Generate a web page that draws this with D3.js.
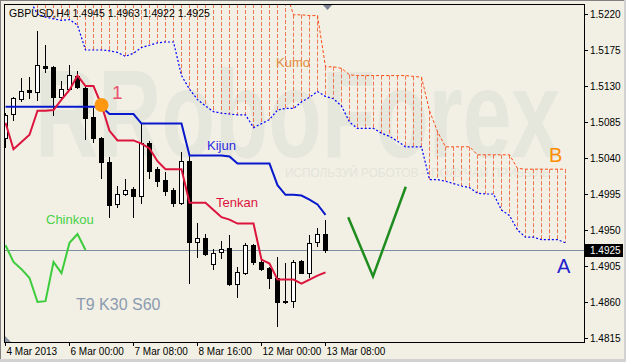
<!DOCTYPE html>
<html>
<head>
<meta charset="utf-8">
<script src="https://cdn.jsdelivr.net/npm/d3@7"></script>
<style>
body { margin: 0; background: #f2f0e4; }
svg { display: block; }
</style>
</head>
<body>
<svg id="chart" width="626" height="362"></svg>
<script>
// ---- data ----
const symbol = "GBPUSD,H4";
const timeLabels = ["4 Mar 2013", "6 Mar 00:00", "7 Mar 08:00", "8 Mar 16:00", "12 Mar 00:00", "13 Mar 08:00"];
const labelBars = [0, 8, 16, 24, 32, 40];
const priceTicks = [1.5220, 1.5175, 1.5130, 1.5085, 1.5040, 1.4995, 1.4950, 1.4905, 1.4860, 1.4815];
const lastPrice = 1.4925;

const opens  = [1.5065, 1.5095, 1.5114, 1.5125, 1.5122, 1.5155, 1.5154, 1.5116, 1.5126, 1.5143,
                1.5128, 1.5091, 1.5065, 1.5035, 1.4983, 1.4995, 1.5001, 1.4993, 1.5059, 1.5026,
                1.5012, 1.5000, 1.4984, 1.5036, 1.4935, 1.4940, 1.4908, 1.4922, 1.4927, 1.4883,
                1.4896, 1.4931, 1.4910, 1.4902, 1.4890, 1.4860, 1.4861, 1.4911, 1.4896, 1.4935, 1.4945];
const highs  = [1.5096, 1.5116, 1.5140, 1.5141, 1.5199, 1.5181, 1.5155, 1.5136, 1.5156, 1.5149,
                1.5129, 1.5103, 1.5066, 1.5041, 1.5005, 1.5014, 1.5004, 1.5084, 1.5061, 1.5029,
                1.5022, 1.5003, 1.5048, 1.5043, 1.4959, 1.4945, 1.4926, 1.4936, 1.4944, 1.4904,
                1.4934, 1.4933, 1.4913, 1.4904, 1.4916, 1.4909, 1.4912, 1.4912, 1.4944, 1.4953, 1.4963];
const lows   = [1.5054, 1.5088, 1.5111, 1.5115, 1.5112, 1.5148, 1.5094, 1.5115, 1.5125, 1.5128,
                1.5064, 1.5060, 1.5015, 1.4966, 1.4979, 1.4994, 1.4966, 1.4984, 1.5015, 1.5005,
                1.4994, 1.4980, 1.4983, 1.4884, 1.4916, 1.4919, 1.4901, 1.4915, 1.4881, 1.4866,
                1.4895, 1.4908, 1.4900, 1.4878, 1.4830, 1.4859, 1.4854, 1.4896, 1.4891, 1.4930, 1.4922];
const closes = [1.5094, 1.5115, 1.5124, 1.5123, 1.5156, 1.5153, 1.5116, 1.5126, 1.5144, 1.5129,
                1.5090, 1.5065, 1.5035, 1.4981, 1.4995, 1.5000, 1.4992, 1.5059, 1.5024, 1.5011,
                1.4999, 1.4984, 1.5036, 1.4935, 1.4940, 1.4920, 1.4921, 1.4926, 1.4883, 1.4898,
                1.4931, 1.4910, 1.4901, 1.4890, 1.4860, 1.4861, 1.4910, 1.4896, 1.4934, 1.4945, 1.4925];

const tenkan = [1.5084, 1.5051, 1.5060, 1.5069, 1.5099, 1.5099, 1.5100, 1.5113, 1.5125, 1.5143,
                1.5130, 1.5130, 1.5106, 1.5074, 1.5062, 1.5062, 1.5062, 1.5058, 1.5052, 1.5036,
                1.5026, 1.5026, 1.5026, 1.4984, 1.4984, 1.4984, 1.4975, 1.4966, 1.4963, 1.4958,
                1.4958, 1.4958, 1.4913, 1.4908, 1.4888, 1.4888, 1.4888, 1.4883, 1.4888, 1.4893, 1.4897];
const kijun  = [1.5104, 1.5104, 1.5104, 1.5104, 1.5104, 1.5104, 1.5104, 1.5104, 1.5104, 1.5104,
                1.5104, 1.5104, 1.5104, 1.5095, 1.5095, 1.5095, 1.5095, 1.5083, 1.5083, 1.5083,
                1.5083, 1.5083, 1.5083, 1.5043, 1.5043, 1.5043, 1.5043, 1.5043, 1.5042, 1.5033,
                1.5033, 1.5033, 1.5033, 1.5033, 1.5006, 1.4994, 1.4994, 1.4993, 1.4988, 1.4982, 1.4969];
// chinkou is drawn from bar 0 (30 bars back)
const chinkou = [1.4931, 1.4910, 1.4901, 1.4890, 1.4860, 1.4861, 1.4910, 1.4896, 1.4934, 1.4945, 1.4925];

// cloud, shifted 30 bars ahead. spanA = lower blue dotted edge, spanB = upper orange edge
const spanAStart = 3;
const spanA = [1.5238, 1.5220, 1.5216, 1.5214, 1.5212, 1.5213, 1.5206, 1.5175, 1.5175, 1.5175,
               1.5174, 1.5172, 1.5167, 1.5171, 1.5178, 1.5181, 1.5184, 1.5185, 1.5185, 1.5143,
               1.5126, 1.5113, 1.5105, 1.5098, 1.5096, 1.5095, 1.5094, 1.5094, 1.5078, 1.5083,
               1.5088, 1.5100, 1.5102, 1.5102, 1.5110, 1.5116, 1.5123, 1.5117, 1.5114, 1.5105,
               1.5085, 1.5077, 1.5077, 1.5077, 1.5071, 1.5067, 1.5061, 1.5054, 1.5054, 1.5054,
               1.5013, 1.5013, 1.5011, 1.5008, 1.5005, 1.5003, 1.4996, 1.4995, 1.4995, 1.4975,
               1.4968, 1.4950, 1.4941, 1.4941, 1.4938, 1.4938, 1.4938, 1.4934];
const spanBStart = 35;
const spanB = [1.5250, 1.5219, 1.5219, 1.5218, 1.5218, 1.5154, 1.5154, 1.5152, 1.5144, 1.5143,
               1.5143, 1.5143, 1.5143, 1.5143, 1.5143, 1.5143, 1.5142, 1.5141, 1.5099, 1.5073,
               1.5054, 1.5054, 1.5054, 1.5054, 1.5044, 1.5044, 1.5044, 1.5044, 1.5044, 1.5027,
               1.5026, 1.5026, 1.5026, 1.5026, 1.5026, 1.5026];

// hand drawn forecast "V"
const forecast = [
    { bar: 42.9, price: 1.4966 },
    { bar: 46.0, price: 1.4892 },
    { bar: 50.1, price: 1.5004 }
];

// ---- layout ----
const font = "'Liberation Sans', Arial, sans-serif";
const plot = { left: 4, top: 4, right: 584, bottom: 342 };
const svg = d3.select("#chart");

const x = d3.scaleLinear().domain([0, 40]).range([5, 325]);
const y = d3.scaleLinear().domain([1.4815, 1.5220]).range([338, 14]);
const px = i => Math.round(x(i));

svg.append("rect").attr("width", 626).attr("height", 362).attr("fill", "#f2f0e4");

svg.append("clipPath").attr("id", "plotClip")
    .append("rect")
    .attr("x", plot.left + 1).attr("y", plot.top + 1)
    .attr("width", plot.right - plot.left - 1).attr("height", plot.bottom - plot.top - 1);

const g = svg.append("g").attr("clip-path", "url(#plotClip)");

// watermark
g.append("text")
    .attr("x", 35).attr("y", 157)
    .attr("font-family", font).attr("font-weight", "bold").attr("font-size", 124)
    .attr("textLength", 525).attr("lengthAdjust", "spacingAndGlyphs")
    .attr("fill", "#e5e6dc")
    .text("RRoboForex");
g.append("text")
    .attr("x", 285).attr("y", 177)
    .attr("font-family", font).attr("font-size", 13)
    .attr("textLength", 265).attr("lengthAdjust", "spacingAndGlyphs")
    .attr("fill", "#e3e4da")
    .text("ИСПОЛЬЗУЙ РОБОТОВ – ПОЛУЧАЙ ПРИБЫЛЬ");

// cloud hatch, one dashed vertical per bar
const hatch = spanA.map((a, k) => {
    const i = spanAStart + k;
    const b = i >= spanBStart ? spanB[i - spanBStart] : null;
    return { i, top: b === null ? plot.top : y(b), bottom: y(a) };
});
g.selectAll(".hatch")
    .data(hatch)
    .enter()
    .append("line")
    .attr("class", "hatch")
    .attr("x1", d => px(d.i) + 0.5).attr("x2", d => px(d.i) + 0.5)
    .attr("y1", d => d.top).attr("y2", d => d.bottom)
    .attr("stroke", "#f07552").attr("stroke-width", 1)
    .attr("stroke-dasharray", "4,2");

g.append("path")
    .datum(spanB)
    .attr("fill", "none")
    .attr("stroke", "#ff4a14").attr("stroke-width", 1)
    .attr("stroke-dasharray", "3,2")
    .attr("d", d3.line().x((d, k) => px(spanBStart + k) + 0.5).y(d => y(d)));

g.append("path")
    .datum(spanA)
    .attr("fill", "none")
    .attr("stroke", "#0000ff").attr("stroke-width", 1.2)
    .attr("stroke-dasharray", "2,2")
    .attr("d", d3.line().x((d, k) => px(spanAStart + k) + 0.5).y(d => y(d)));

// last price line
g.append("line")
    .attr("x1", plot.left).attr("x2", plot.right)
    .attr("y1", Math.round(y(lastPrice)) + 0.5).attr("y2", Math.round(y(lastPrice)) + 0.5)
    .attr("stroke", "#7d8ca2").attr("stroke-width", 1);

// candles
const bars = opens.map((o, i) => ({ i, o, h: highs[i], l: lows[i], c: closes[i] }));
const candle = g.selectAll(".candle")
    .data(bars)
    .enter()
    .append("g")
    .attr("class", "candle");

candle.append("line")
    .attr("x1", d => px(d.i) + 0.5).attr("x2", d => px(d.i) + 0.5)
    .attr("y1", d => Math.round(y(d.h))).attr("y2", d => Math.round(y(d.l)) + 1)
    .attr("stroke", "#000").attr("stroke-width", 1);

candle.each(function(d) {
    const top = Math.round(y(Math.max(d.o, d.c)));
    const bot = Math.round(y(Math.min(d.o, d.c)));
    const sel = d3.select(this);
    if (d.c > d.o) {
        sel.append("rect")
            .attr("x", px(d.i) - 1.5).attr("y", top + 0.5)
            .attr("width", 4).attr("height", Math.max(0, bot - top))
            .attr("fill", "#fff").attr("stroke", "#000").attr("stroke-width", 1);
    } else {
        sel.append("rect")
            .attr("x", px(d.i) - 2).attr("y", top)
            .attr("width", 5).attr("height", Math.max(1, bot - top + 1))
            .attr("fill", "#000");
    }
});

// ichimoku lines
const barLine = d3.line().x((d, i) => x(i) + 0.5).y(d => y(d));

g.append("path")
    .datum(kijun)
    .attr("fill", "none").attr("stroke", "#0818cc").attr("stroke-width", 2)
    .attr("d", barLine);

g.append("path")
    .datum(tenkan)
    .attr("fill", "none").attr("stroke", "#dc143c").attr("stroke-width", 2)
    .attr("d", barLine);

g.append("path")
    .datum(chinkou)
    .attr("fill", "none").attr("stroke", "#3ccc3c").attr("stroke-width", 2)
    .attr("d", barLine);

// forecast V
g.append("path")
    .datum(forecast)
    .attr("fill", "none").attr("stroke", "#1f8c1f").attr("stroke-width", 2.5)
    .attr("d", d3.line().x(d => x(d.bar)).y(d => y(d.price)));

// cross marker
g.append("circle")
    .attr("cx", 101.5).attr("cy", 105).attr("r", 7)
    .attr("fill", "#ff9810");

// labels
const labels = [
    { text: "1", x: 112, y: 99, size: 19, color: "#e8506e" },
    { text: "Kumo", x: 276, y: 67, size: 13, color: "#e38c40" },
    { text: "Kijun", x: 207, y: 150, size: 13, color: "#2a2ae0" },
    { text: "Tenkan", x: 216, y: 207, size: 13, color: "#dc143c" },
    { text: "Chinkou", x: 46, y: 224, size: 13, color: "#48d048" },
    { text: "T9 K30 S60", x: 76, y: 310, size: 16, color: "#8a9bb0" },
    { text: "B", x: 549, y: 162, size: 20, color: "#ff8c00" },
    { text: "A", x: 557, y: 273, size: 20, color: "#2020d0" }
];
g.selectAll(".label")
    .data(labels)
    .enter()
    .append("text")
    .attr("class", "label")
    .attr("x", d => d.x).attr("y", d => d.y)
    .attr("font-family", font).attr("font-size", d => d.size)
    .attr("fill", d => d.color)
    .text(d => d.text);

g.append("text")
    .attr("x", 9).attr("y", 17)
    .attr("font-family", font).attr("font-size", 10.5)
    .attr("fill", "#000")
    .text(`${symbol}  ${opens[40].toFixed(4)} ${highs[40].toFixed(4)} ${lows[40].toFixed(4)} ${closes[40].toFixed(4)}`);

// chart shift marker and corner marker
svg.append("path")
    .attr("d", `M${x(40) - 3},${plot.top} L${x(40) + 8},${plot.top} L${x(40) + 2.5},${plot.top + 6} Z`)
    .attr("fill", "#7a8494");
svg.append("path")
    .attr("d", `M${plot.left + 1},${plot.bottom - 6} L${plot.left + 1},${plot.bottom} L${plot.left + 7},${plot.bottom} Z`)
    .attr("fill", "#8a92a0");

// plot border
svg.append("rect")
    .attr("x", plot.left + 0.5).attr("y", plot.top + 0.5)
    .attr("width", plot.right - plot.left).attr("height", plot.bottom - plot.top)
    .attr("fill", "none").attr("stroke", "#000");

// price axis
const yAxis = d3.axisRight(y)
    .tickValues(priceTicks)
    .tickSize(4)
    .tickPadding(2)
    .tickFormat(d3.format(".4f"));

svg.append("g")
    .attr("transform", `translate(${plot.right},0)`)
    .call(yAxis)
    .call(a => a.select(".domain").remove())
    .attr("font-family", font).attr("font-size", 10)
    .call(a => a.selectAll("text").attr("fill", "#000"));

// time axis
const xAxis = d3.axisBottom(x)
    .tickValues(labelBars)
    .tickSize(4)
    .tickPadding(2)
    .tickFormat((d, i) => timeLabels[i]);

svg.append("g")
    .attr("transform", `translate(0,${plot.bottom})`)
    .call(xAxis)
    .call(a => a.select(".domain").remove())
    .attr("font-family", font).attr("font-size", 10)
    .call(a => a.selectAll("text").attr("text-anchor", "start").attr("dx", 1).attr("fill", "#000"));

// last price tag
svg.append("rect")
    .attr("x", plot.right + 1).attr("y", Math.round(y(lastPrice)) - 6)
    .attr("width", 38).attr("height", 13)
    .attr("fill", "#000");
svg.append("text")
    .attr("x", plot.right + 6).attr("y", Math.round(y(lastPrice)) + 0.5)
    .attr("dy", "0.32em")
    .attr("font-family", font).attr("font-size", 10)
    .attr("fill", "#fff")
    .text(lastPrice.toFixed(4));

// window frame
svg.append("line").attr("x1", 0).attr("x2", 626).attr("y1", 0.5).attr("y2", 0.5).attr("stroke", "#808080");
svg.append("line").attr("x1", 0.5).attr("x2", 0.5).attr("y1", 0).attr("y2", 362).attr("stroke", "#808080");
svg.append("rect").attr("x", 0).attr("y", 359).attr("width", 626).attr("height", 3).attr("fill", "#d2d2d2");
svg.append("rect").attr("x", 624).attr("y", 0).attr("width", 2).attr("height", 362).attr("fill", "#d2d2d2");
</script>
</body>
</html>
